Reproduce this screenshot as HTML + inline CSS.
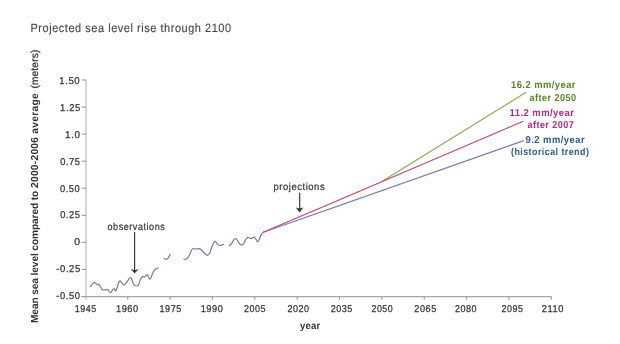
<!DOCTYPE html>
<html><head><meta charset="utf-8"><style>
html,body{margin:0;padding:0;background:#fff;width:620px;height:344px;overflow:hidden}
svg{display:block;font-family:"Liberation Sans",sans-serif}
.g{opacity:0.999;text-rendering:geometricPrecision}
</style></head><body>
<svg width="620" height="344" viewBox="0 0 620 344">
<rect width="620" height="344" fill="#fff"/>
<g class="g">
<text x="30.50" y="31.80" font-size="12.00" font-weight="400" letter-spacing="0.60" textLength="201.13" lengthAdjust="spacingAndGlyphs" fill="#444" stroke="#444" stroke-width="0.12">Projected sea level rise through 2100</text>
<text transform="translate(37.70,323.00) rotate(-90)" font-size="10.20" font-weight="700" textLength="132.33" fill="#333">Mean sea level compared to</text>
<text transform="translate(37.70,188.00) rotate(-90)" font-size="10.20" font-weight="700" textLength="94.58" fill="#333">2000-2006 average</text>
<text transform="translate(37.70,88.60) rotate(-90)" font-size="10.20" font-weight="400" textLength="38.92" fill="#333" stroke="#333" stroke-width="0.25">(meters)</text>
<g fill="none">
<path d="M86 80V299.7" stroke="#cacaca" stroke-width="1.5"/>
<path d="M81.5 296.5H551.3" stroke="#a8a8a8" stroke-width="1.25"/>
</g><g stroke="#9c9c9c" stroke-width="1.1" fill="none">
<path d="M81.5 80.00H86"/>
<path d="M81.5 107.06H86"/>
<path d="M81.5 134.12H86"/>
<path d="M81.5 161.19H86"/>
<path d="M81.5 188.25H86"/>
<path d="M81.5 215.31H86"/>
<path d="M81.5 242.38H86"/>
<path d="M81.5 269.44H86"/>
<path d="M81.5 296.50H86"/>
<path d="M127.71 296.5V299.8"/>
<path d="M170.07 296.5V299.8"/>
<path d="M212.43 296.5V299.8"/>
<path d="M254.79 296.5V299.8"/>
<path d="M297.15 296.5V299.8"/>
<path d="M339.51 296.5V299.8"/>
<path d="M381.87 296.5V299.8"/>
<path d="M424.23 296.5V299.8"/>
<path d="M466.59 296.5V299.8"/>
<path d="M508.95 296.5V299.8"/>
<path d="M551.31 296.5V299.8"/>
</g>
<text x="59.30" y="83.70" font-size="9.90" letter-spacing="0.60" textLength="20.97" lengthAdjust="spacingAndGlyphs" fill="#333" stroke="#333" stroke-width="0.25">1.50</text>
<text x="60.11" y="110.65" font-size="9.90" letter-spacing="0.60" textLength="20.72" lengthAdjust="spacingAndGlyphs" fill="#333" stroke="#333" stroke-width="0.25">1.25</text>
<text x="65.12" y="137.60" font-size="9.90" letter-spacing="0.60" textLength="15.47" lengthAdjust="spacingAndGlyphs" fill="#333" stroke="#333" stroke-width="0.25">1.0</text>
<text x="60.26" y="164.55" font-size="9.90" letter-spacing="0.60" textLength="20.20" lengthAdjust="spacingAndGlyphs" fill="#333" stroke="#333" stroke-width="0.25">0.75</text>
<text x="59.92" y="191.50" font-size="9.90" letter-spacing="0.60" textLength="20.48" lengthAdjust="spacingAndGlyphs" fill="#333" stroke="#333" stroke-width="0.25">0.50</text>
<text x="60.14" y="218.45" font-size="9.90" letter-spacing="0.60" textLength="20.40" lengthAdjust="spacingAndGlyphs" fill="#333" stroke="#333" stroke-width="0.25">0.25</text>
<text x="74.27" y="245.40" font-size="9.90" letter-spacing="0.60" textLength="6.40" lengthAdjust="spacingAndGlyphs" fill="#333" stroke="#333" stroke-width="0.25">0</text>
<text x="56.30" y="272.35" font-size="9.90" letter-spacing="0.60" textLength="24.50" lengthAdjust="spacingAndGlyphs" fill="#333" stroke="#333" stroke-width="0.25">-0.25</text>
<text x="56.32" y="299.30" font-size="9.90" letter-spacing="0.60" textLength="24.13" lengthAdjust="spacingAndGlyphs" fill="#333" stroke="#333" stroke-width="0.25">-0.50</text>
<text x="74.64" y="312.00" font-size="9.90" letter-spacing="0.60" textLength="22.21" lengthAdjust="spacingAndGlyphs" fill="#333" stroke="#333" stroke-width="0.25">1945</text>
<text x="115.97" y="312.00" font-size="9.90" letter-spacing="0.60" textLength="22.81" lengthAdjust="spacingAndGlyphs" fill="#333" stroke="#333" stroke-width="0.25">1960</text>
<text x="159.53" y="312.00" font-size="9.90" letter-spacing="0.60" textLength="22.40" lengthAdjust="spacingAndGlyphs" fill="#333" stroke="#333" stroke-width="0.25">1975</text>
<text x="200.64" y="312.00" font-size="9.90" letter-spacing="0.60" textLength="22.73" lengthAdjust="spacingAndGlyphs" fill="#333" stroke="#333" stroke-width="0.25">1990</text>
<text x="244.00" y="312.00" font-size="9.90" letter-spacing="0.60" textLength="22.10" lengthAdjust="spacingAndGlyphs" fill="#333" stroke="#333" stroke-width="0.25">2005</text>
<text x="287.48" y="312.00" font-size="9.90" letter-spacing="0.60" textLength="22.19" lengthAdjust="spacingAndGlyphs" fill="#333" stroke="#333" stroke-width="0.25">2020</text>
<text x="330.72" y="312.00" font-size="9.90" letter-spacing="0.60" textLength="22.21" lengthAdjust="spacingAndGlyphs" fill="#333" stroke="#333" stroke-width="0.25">2035</text>
<text x="371.43" y="312.00" font-size="9.90" letter-spacing="0.60" textLength="21.86" lengthAdjust="spacingAndGlyphs" fill="#333" stroke="#333" stroke-width="0.25">2050</text>
<text x="414.37" y="312.00" font-size="9.90" letter-spacing="0.60" textLength="22.46" lengthAdjust="spacingAndGlyphs" fill="#333" stroke="#333" stroke-width="0.25">2065</text>
<text x="455.03" y="312.00" font-size="9.90" letter-spacing="0.60" textLength="22.09" lengthAdjust="spacingAndGlyphs" fill="#333" stroke="#333" stroke-width="0.25">2080</text>
<text x="501.49" y="312.00" font-size="9.90" letter-spacing="0.60" textLength="22.00" lengthAdjust="spacingAndGlyphs" fill="#333" stroke="#333" stroke-width="0.25">2095</text>
<text x="541.74" y="312.00" font-size="9.90" letter-spacing="0.60" textLength="22.16" lengthAdjust="spacingAndGlyphs" fill="#333" stroke="#333" stroke-width="0.25">2110</text>
<text x="300.00" y="328.50" font-size="10.20" font-weight="700" letter-spacing="0.30" textLength="20.57" lengthAdjust="spacingAndGlyphs" fill="#333">year</text>
<text x="107.50" y="229.60" font-size="10.20" font-weight="400" letter-spacing="0.60" textLength="57.77" lengthAdjust="spacingAndGlyphs" fill="#333" stroke="#333" stroke-width="0.2">observations</text>
<text x="273.50" y="189.70" font-size="10.20" font-weight="400" letter-spacing="0.60" textLength="51.67" lengthAdjust="spacingAndGlyphs" fill="#333" stroke="#333" stroke-width="0.2">projections</text>
<g stroke="#333" stroke-width="1.15"><path d="M134.6 232V271"/><path d="M299.7 192.7V209.5"/></g>
<path d="M130.9 268.9L134.6 270.2L138.5 268.9L134.6 273.6Z" fill="#333"/>
<path d="M295.9 207.5L299.7 208.6L303.3 207.5L299.7 212.4Z" fill="#333"/>
<g stroke="#7676b8" stroke-width="1.2" fill="none" stroke-linejoin="round" stroke-linecap="round">
<path d="M90.60 286.40C91.15 285.75 92.92 282.88 93.90 282.50C94.88 282.12 95.75 283.77 96.50 284.10C97.25 284.43 97.87 284.28 98.40 284.50C98.93 284.72 99.03 284.53 99.70 285.40C100.37 286.27 101.63 288.92 102.40 289.70C103.17 290.48 103.65 290.17 104.30 290.10C104.95 290.03 105.63 289.27 106.30 289.30C106.97 289.33 107.58 289.68 108.30 290.30C109.02 290.92 109.85 293.17 110.60 293.00C111.35 292.83 112.22 290.00 112.80 289.30C113.38 288.60 113.55 288.63 114.10 288.80C114.65 288.97 115.22 291.57 116.10 290.30C116.98 289.03 118.42 282.40 119.40 281.20C120.38 280.00 121.13 282.50 122.00 283.10C122.87 283.70 123.30 285.67 124.60 284.80C125.90 283.93 128.63 278.85 129.80 277.90C130.97 276.95 130.95 278.02 131.60 279.10C132.25 280.18 132.95 283.25 133.70 284.40C134.45 285.55 135.30 285.93 136.10 286.00C136.90 286.07 137.75 285.95 138.50 284.80C139.25 283.65 139.92 280.47 140.60 279.10C141.28 277.73 141.93 276.95 142.60 276.60C143.27 276.25 143.85 277.33 144.60 277.00C145.35 276.67 146.22 274.25 147.10 274.60C147.98 274.95 149.08 279.03 149.90 279.10C150.72 279.17 151.25 276.50 152.00 275.00C152.75 273.50 153.40 271.28 154.40 270.10C155.40 268.92 157.40 268.27 158.00 267.90"/>
<path d="M164.20 258.40C164.57 258.55 165.67 259.48 166.40 259.30C167.13 259.12 167.98 258.12 168.60 257.30C169.22 256.48 169.85 254.88 170.10 254.40"/>
<path d="M184.00 259.20C184.42 259.17 185.60 259.65 186.50 259.00C187.40 258.35 188.43 256.98 189.40 255.30C190.37 253.62 191.32 249.93 192.30 248.90C193.28 247.87 194.20 249.13 195.30 249.10C196.40 249.07 197.82 248.52 198.90 248.70C199.98 248.88 200.47 249.10 201.80 250.20C203.13 251.30 205.57 254.82 206.90 255.30C208.23 255.78 209.07 254.27 209.80 253.10C210.53 251.93 210.72 249.90 211.30 248.30C211.88 246.70 212.63 244.65 213.30 243.50C213.97 242.35 214.62 241.33 215.30 241.40C215.98 241.47 216.65 243.22 217.40 243.90C218.15 244.58 218.78 245.43 219.80 245.50C220.82 245.57 222.88 244.50 223.50 244.30"/>
<path d="M229.30 245.50C229.68 245.17 230.88 244.38 231.60 243.50C232.32 242.62 232.98 241.05 233.60 240.20C234.22 239.35 234.68 238.40 235.30 238.40C235.92 238.40 236.62 239.35 237.30 240.20C237.98 241.05 238.67 242.72 239.40 243.50C240.13 244.28 240.98 244.88 241.70 244.90C242.42 244.92 243.03 244.50 243.70 243.60C244.37 242.70 245.02 240.55 245.70 239.50C246.38 238.45 247.05 237.50 247.80 237.30C248.55 237.10 249.53 238.13 250.20 238.30C250.87 238.47 251.12 238.50 251.80 238.30C252.48 238.10 253.62 236.97 254.30 237.10C254.98 237.23 255.37 238.30 255.90 239.10C256.43 239.90 256.95 241.83 257.50 241.90C258.05 241.97 258.58 240.72 259.20 239.50C259.82 238.28 260.52 235.80 261.20 234.60C261.88 233.40 262.95 232.68 263.30 232.30"/>
</g>
<path d="M263.3 232.3L523.8 140.6" stroke="#7c7cbb" stroke-width="1.15" fill="none"/>
<path d="M381.8 181.6L526.2 92.2" stroke="#90a956" stroke-width="1.15" fill="none"/>
<path d="M263.3 232.3L523.3 121.2" stroke="#bf4a78" stroke-width="1.15" fill="none"/>
<text x="511.00" y="88.40" font-size="10.00" font-weight="700" letter-spacing="0.50" textLength="64.99" lengthAdjust="spacingAndGlyphs" fill="#558527">16.2 mm/year</text>
<text x="529.50" y="100.70" font-size="10.00" font-weight="700" letter-spacing="0.50" textLength="47.10" lengthAdjust="spacingAndGlyphs" fill="#558527">after 2050</text>
<text x="509.50" y="116.00" font-size="10.00" font-weight="700" letter-spacing="0.50" textLength="64.83" lengthAdjust="spacingAndGlyphs" fill="#ad2a7e">11.2 mm/year</text>
<text x="527.50" y="128.40" font-size="10.00" font-weight="700" letter-spacing="0.50" textLength="46.70" lengthAdjust="spacingAndGlyphs" fill="#ad2a7e">after 2007</text>
<text x="525.50" y="142.60" font-size="10.00" font-weight="700" letter-spacing="0.50" textLength="59.53" lengthAdjust="spacingAndGlyphs" fill="#2d5a8a">9.2 mm/year</text>
<text x="511.00" y="154.70" font-size="10.00" font-weight="700" letter-spacing="0.50" textLength="78.31" lengthAdjust="spacingAndGlyphs" fill="#2d5a8a">(historical trend)</text>
</g>
</svg>
</body></html>
